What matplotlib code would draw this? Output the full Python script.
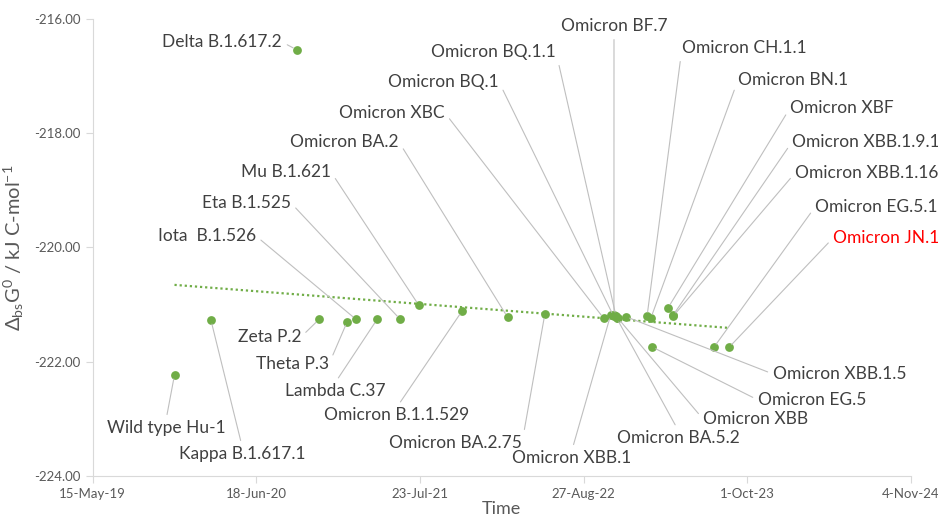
import datetime as dt

import numpy as np
import matplotlib
matplotlib.use('Agg')
from matplotlib import pyplot as plt
import matplotlib.dates as mdates
from matplotlib.ticker import FuncFormatter, FixedLocator

plt.rcParams['font.family'] = ['Lato', 'DejaVu Sans']
plt.rcParams['mathtext.fontset'] = 'custom'
plt.rcParams['mathtext.rm'] = 'Lato'
plt.rcParams['mathtext.it'] = 'Lato:italic'

# Variantes, fecha y energia de Gibbs.
variantes = [
    'Wild type Hu-1', 'Kappa B.1.617.1', 'Delta B.1.617.2', 'Zeta P.2',
    'Theta P.3', 'Iota  B.1.526', 'Lambda C.37', 'Eta B.1.525',
    'Mu B.1.621', 'Omicron B.1.1.529', 'Omicron BA.2', 'Omicron BA.2.75',
    'Omicron XBC', 'Omicron XBB.1', 'Omicron BQ.1', 'Omicron BF.7',
    'Omicron BQ.1.1', 'Omicron BA.5.2', 'Omicron XBB', 'Omicron XBB.1.5',
    'Omicron CH.1.1', 'Omicron BN.1', 'Omicron EG.5', 'Omicron XBF',
    'Omicron XBB.1.9.1', 'Omicron XBB.1.16', 'Omicron EG.5.1', 'Omicron JN.1',
]
fechas = [
    '2019-12-01', '2020-02-28', '2020-09-25', '2020-11-18',
    '2021-01-26', '2021-02-17', '2021-04-09', '2021-06-05',
    '2021-07-20', '2021-11-03', '2022-02-22', '2022-05-24',
    '2022-10-15', '2022-11-01', '2022-11-08', '2022-11-09',
    '2022-11-14', '2022-11-16', '2022-11-19', '2022-12-08',
    '2023-01-29', '2023-02-07', '2023-02-10', '2023-03-21',
    '2023-04-02', '2023-04-03', '2023-07-11', '2023-08-17',
]
energia = [
    -222.23, -221.27, -216.54, -221.26,
    -221.30, -221.26, -221.26, -221.26,
    -221.01, -221.11, -221.22, -221.17,
    -221.24, -221.18, -221.20, -221.18,
    -221.20, -221.24, -221.24, -221.21,
    -221.20, -221.24, -221.74, -221.06,
    -221.19, -221.20, -221.75, -221.75,
]

# Posicion de cada etiqueta en pixeles de la figura (x, y desde arriba),
# alineacion horizontal y punto de union de la linea guia.
etiquetas = {
    'Wild type Hu-1': (166, 428, 'center', (0.5, 1)),
    'Kappa B.1.617.1': (242, 454, 'center', (0.5, 1)),
    'Delta B.1.617.2': (282, 42, 'right', (1, 0.5)),
    'Zeta P.2': (301, 337, 'right', (1, 0.5)),
    'Theta P.3': (329, 364, 'right', (1, 0.5)),
    'Iota  B.1.526': (256, 236, 'right', (1, 0.5)),
    'Lambda C.37': (335, 391, 'center', (0.5, 1)),
    'Eta B.1.525': (291, 203, 'right', (1, 0.5)),
    'Mu B.1.621': (331, 172, 'right', (1, 0.5)),
    'Omicron B.1.1.529': (397, 415, 'center', (0.5, 1)),
    'Omicron BA.2': (399, 142, 'right', (1, 0.5)),
    'Omicron BA.2.75': (522, 443, 'right', (1, 0.5)),
    'Omicron XBC': (445, 113, 'right', (1, 0.5)),
    'Omicron XBB.1': (572, 458, 'center', (0.5, 1)),
    'Omicron BQ.1': (499, 82, 'right', (1, 0.5)),
    'Omicron BF.7': (614, 26, 'center', (0.5, 0)),
    'Omicron BQ.1.1': (556, 52, 'right', (1, 0.5)),
    'Omicron BA.5.2': (678, 438, 'center', (0.5, 1)),
    'Omicron XBB': (703, 419, 'left', (0, 0.5)),
    'Omicron XBB.1.5': (773, 374, 'left', (0, 0.5)),
    'Omicron CH.1.1': (682, 48, 'left', (0, 0.5)),
    'Omicron BN.1': (738, 80, 'left', (0, 0.5)),
    'Omicron EG.5': (758, 400, 'left', (0, 0.5)),
    'Omicron XBF': (790, 108, 'left', (0, 0.5)),
    'Omicron XBB.1.9.1': (792, 142, 'left', (0, 0.5)),
    'Omicron XBB.1.16': (795, 173, 'left', (0, 0.5)),
    'Omicron EG.5.1': (815, 207, 'left', (0, 0.5)),
    'Omicron JN.1': (833, 238, 'left', (0, 0.5)),
}

ticks_x = ['2019-05-15', '2020-06-18', '2021-07-23',
           '2022-08-27', '2023-10-01', '2024-11-04']
ticks_y = [-224, -222, -220, -218, -216]

verde = '#70AD47'
gris = '#595959'
gris_claro = '#D9D9D9'

x = mdates.date2num([dt.date.fromisoformat(f) for f in fechas])
y = np.array(energia)

fig = plt.figure(figsize=(9.38, 5.2), dpi=100)
ax = fig.add_axes([0.0988, 0.0846, 0.8724, 0.8789])

# Linea de tendencia lineal.
m, b = np.polyfit(x, y, 1)
xt = np.array([x.min(), x.max()])
ax.plot(xt, m * xt + b, color=verde, lw=1.6, ls=(0, (1, 1.3)), zorder=2)

ax.scatter(x, y, s=40, color=verde, zorder=3, linewidths=0)

H = 520
for nombre, xi, yi in zip(variantes, x, y):
    px, py, ha, rel = etiquetas[nombre]
    color = 'red' if nombre == 'Omicron JN.1' else '#404040'
    ax.annotate(
        nombre, xy=(xi, yi), xytext=(px, H - py), textcoords='figure pixels',
        ha=ha, va='center', fontsize=12.5, color=color,
        annotation_clip=False,
        arrowprops=dict(arrowstyle='-', color='#BFBFBF', lw=0.8,
                        relpos=rel, shrinkA=2, shrinkB=3),
    )

fechas_ticks = [dt.date.fromisoformat(f) for f in ticks_x]
ax.set_xlim(mdates.date2num(fechas_ticks[0]), mdates.date2num(fechas_ticks[-1]))
ax.xaxis.set_major_locator(FixedLocator(mdates.date2num(fechas_ticks)))
ax.xaxis.set_major_formatter(FuncFormatter(
    lambda v, pos: '{}-{}'.format(mdates.num2date(v).day,
                                  mdates.num2date(v).strftime('%b-%y'))))
ax.set_ylim(-224, -216)
ax.set_yticks(ticks_y)
ax.yaxis.set_major_formatter(FuncFormatter(lambda v, pos: '%.2f' % v))

for lado in ['top', 'right']:
    ax.spines[lado].set_visible(False)
for lado in ['left', 'bottom']:
    ax.spines[lado].set_color(gris_claro)
ax.tick_params(axis='both', colors=gris_claro, labelcolor=gris,
               labelsize=9.5, length=5, direction='out')

ax.set_xlabel('Time', fontsize=13, color=gris, labelpad=1)
ax.set_ylabel(r'$\Delta_{\mathrm{bs}}\mathrm{G}^{0}$ / kJ C-mol$^{-1}$',
              fontsize=14.5, color=gris, labelpad=6)

fig.savefig('out.png', dpi=100)
